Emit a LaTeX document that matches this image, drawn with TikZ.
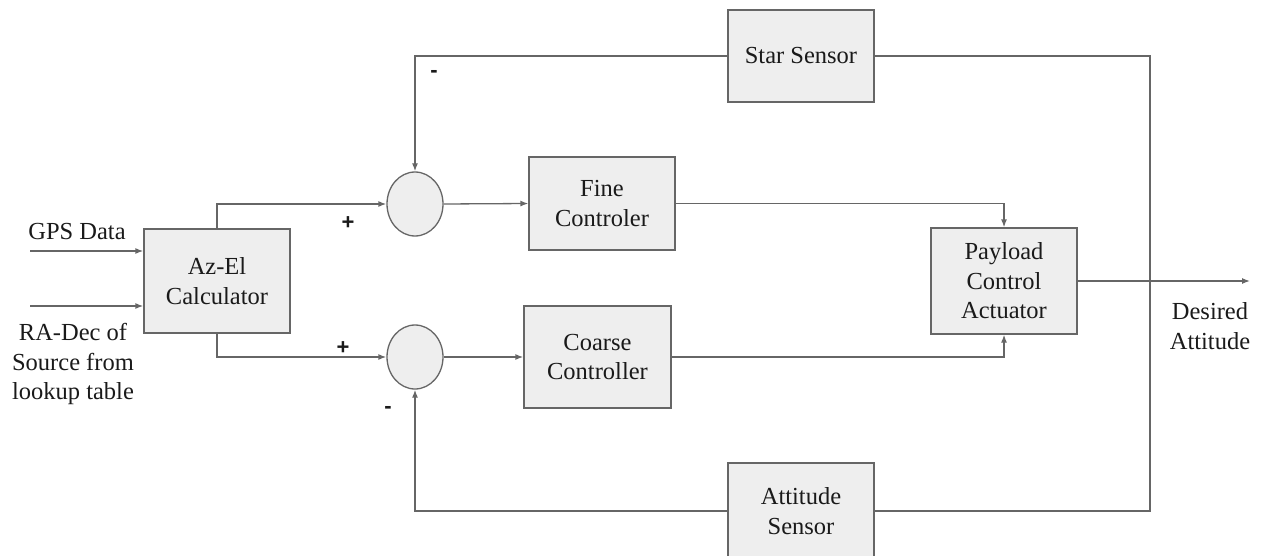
\documentclass[tikz,border=0pt]{standalone}
\usepackage{fontspec}
\setmainfont{Liberation Serif}
\newfontfamily\signfont{Liberation Sans}
\usetikzlibrary{arrows.meta,shapes.geometric}
\definecolor{boxfill}{HTML}{EEEEEE}
\definecolor{linegray}{HTML}{666666}
\definecolor{txt}{HTML}{1A1A1A}
\begin{document}
\begin{tikzpicture}[x=1pt,y=-1pt,
  blk/.style={draw=linegray, line width=1.3pt, fill=boxfill, align=center, text=txt,
    font=\fontsize{24.5}{29.5}\selectfont, inner sep=0pt},
  sumj/.style={ellipse, draw=linegray, line width=1.3pt, fill=boxfill,
    minimum width=56pt, minimum height=64pt, inner sep=0pt},
  conn/.style={draw=linegray, line width=1.3pt},
  arr/.style={conn, -{Latex[length=8pt,width=6pt]}},
  lbl/.style={text=txt, align=center, font=\fontsize{24.5}{29.5}\selectfont, inner sep=0pt},
  sgn/.style={text=txt, font=\signfont\bfseries\fontsize{22}{22}\selectfont, inner sep=0pt}]
\useasboundingbox (0,0) rectangle (1263,556);

\node[blk, minimum width=146pt, minimum height=104pt] (azel) at (217,281) {Az-El\\Calculator};
\node[blk, minimum width=146pt, minimum height=92pt] (star) at (801,56) {Star Sensor};
\node[blk, minimum width=146pt, minimum height=93pt] (fine) at (602,203.5) {Fine\\Controler};
\node[blk, minimum width=146pt, minimum height=106pt] (payload) at (1004,281) {Payload\\Control\\Actuator};
\node[blk, minimum width=147pt, minimum height=102pt] (coarse) at (597.5,357) {Coarse\\Controller};
\node[blk, minimum width=146pt, minimum height=96pt] (att) at (801,511) {Attitude\\Sensor};
\node[sumj] (s1) at (415,204) {};
\node[sumj] (s2) at (415,357) {};

\node[lbl] (gps) at (77,232) {GPS Data};
\node[lbl] (radec) at (73,364) {RA-Dec of\\Source from\\lookup table};
\node[lbl] (desired) at (1210,326) {Desired\\Attitude};

\node[sgn] (p1) at (348,223) {+};
\node[sgn] (p2) at (343,348) {+};
\node[sgn] (m1) at (434,74) {-};
\node[sgn] (m2) at (388,410) {-};

\coordinate (in1) at (30,251);
\coordinate (in2) at (30,306);
\coordinate (out) at (1250,281);
\coordinate (jn) at (1150,281);

\draw[arr] (in1) -- (azel.west |- in1);
\draw[arr] (in2) -- (azel.west |- in2);
\draw[arr] (azel.north) |- (s1.west);
\draw[arr] (azel.south) |- (s2.west);
\draw[arr] (s1.east) -- (fine.west);
\draw[arr] (s2.east) -- (coarse.west);
\draw[arr] (fine.east) -| (payload.north);
\draw[arr] (coarse.east) -| (payload.south);
\draw[arr] (payload.east) -- (out);
\draw[arr] (star.west) -| (s1.north);
\draw[arr] (att.west) -| (s2.south);
\draw[conn] (star.east) -| (jn) |- (att.east);
\end{tikzpicture}
\end{document}
